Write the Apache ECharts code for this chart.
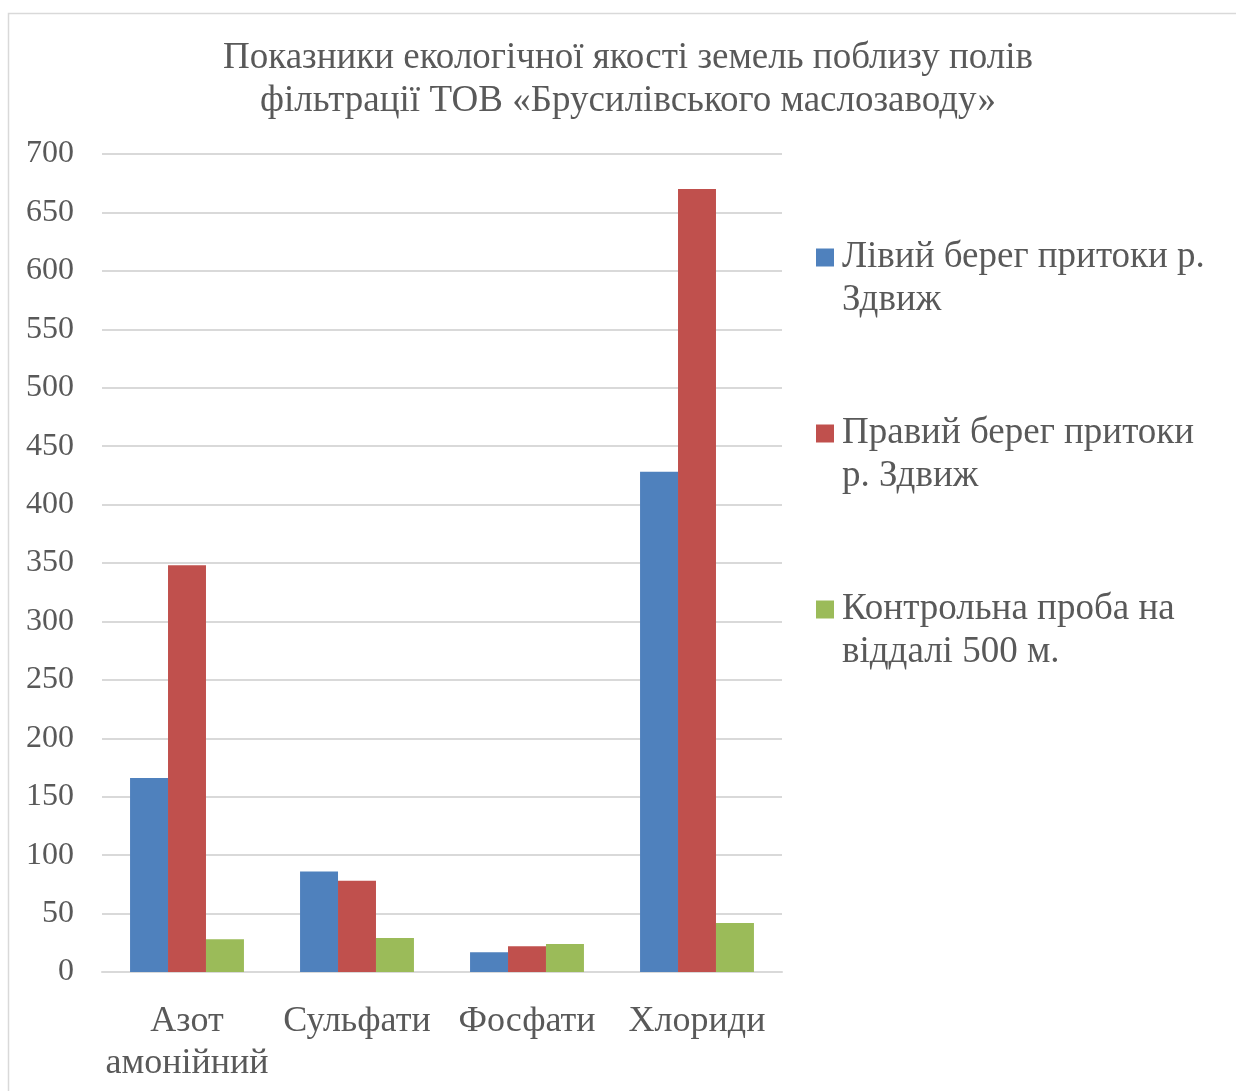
<!DOCTYPE html>
<html>
<head>
<meta charset="utf-8">
<script src="https://cdn.jsdelivr.net/npm/echarts@6/dist/echarts.min.js"></script>
<style>
  html, body { margin: 0; padding: 0; background: #fff; }
  #chart { width: 1236px; height: 1091px; }
</style>
</head>
<body>
<div id="chart"></div>
<script>
// Показники (мг/кг) на трьох ділянках відбору проб
const categories = ['Азот\nамонійний', 'Сульфати', 'Фосфати', 'Хлориди'];
const leftBank = [166, 86, 17, 428];
const rightBank = [348, 78, 22, 670];
const control = [28, 29, 24, 42];
const seriesNames = [
  'Лівий берег притоки р.\nЗдвиж',
  'Правий берег притоки\nр. Здвиж',
  'Контрольна проба на\nвіддалі 500 м.'
];
const colors = ['#4F81BD', '#C0504D', '#9BBB59'];

const FONT = '"Liberation Serif", "Times New Roman", serif';
const TEXT = '#595959';

const chart = echarts.init(document.getElementById('chart'), null, { renderer: 'canvas' });

chart.setOption({
  animation: false,
  backgroundColor: '#fff',
  color: colors,
  title: {
    text: 'Показники екологічної якості земель поблизу полів\nфільтрації ТОВ «Брусилівського маслозаводу»',
    left: 628,
    textAlign: 'center',
    top: 37,
    padding: 0,
    textStyle: {
      fontFamily: FONT,
      fontSize: 37,
      fontWeight: 'normal',
      color: TEXT,
      lineHeight: 43
    }
  },
  graphic: [{
    type: 'rect',
    shape: { x: 8.5, y: 13.5, width: 1240, height: 1100 },
    style: { fill: 'none', stroke: '#d9d9d9', lineWidth: 1.5 },
    silent: true
  }],
  legend: {
    orient: 'vertical',
    left: 816,
    top: 193,
    padding: 0,
    itemWidth: 18,
    itemHeight: 18,
    itemGap: 47,
    icon: 'rect',
    // empty first line keeps the marker level with the first text line
    formatter: name => '\n' + name,
    textStyle: {
      fontFamily: FONT,
      fontSize: 37,
      color: TEXT,
      lineHeight: 43,
      padding: [0, 0, 0, 3]
    },
    data: seriesNames
  },
  grid: {
    left: 102,
    right: 454,
    top: 154,
    bottom: 119,
    containLabel: false
  },
  xAxis: {
    type: 'category',
    data: categories,
    axisTick: { show: false },
    axisLine: { lineStyle: { color: '#d9d9d9', width: 2 } },
    axisLabel: {
      fontFamily: FONT,
      fontSize: 36,
      color: TEXT,
      lineHeight: 42,
      margin: 29,
      interval: 0
    }
  },
  yAxis: {
    type: 'value',
    min: 0,
    max: 700,
    interval: 50,
    axisLine: { show: false },
    axisTick: { show: false },
    splitLine: { lineStyle: { color: '#d9d9d9', width: 2 } },
    axisLabel: {
      fontFamily: FONT,
      fontSize: 32,
      color: TEXT,
      margin: 28,
      padding: [3, 0, 0, 0]
    }
  },
  series: [
    { name: seriesNames[0], type: 'bar', data: leftBank, barGap: '0%', barCategoryGap: '33%' },
    { name: seriesNames[1], type: 'bar', data: rightBank, barGap: '0%', barCategoryGap: '33%' },
    { name: seriesNames[2], type: 'bar', data: control, barGap: '0%', barCategoryGap: '33%' }
  ]
});
</script>
</body>
</html>
